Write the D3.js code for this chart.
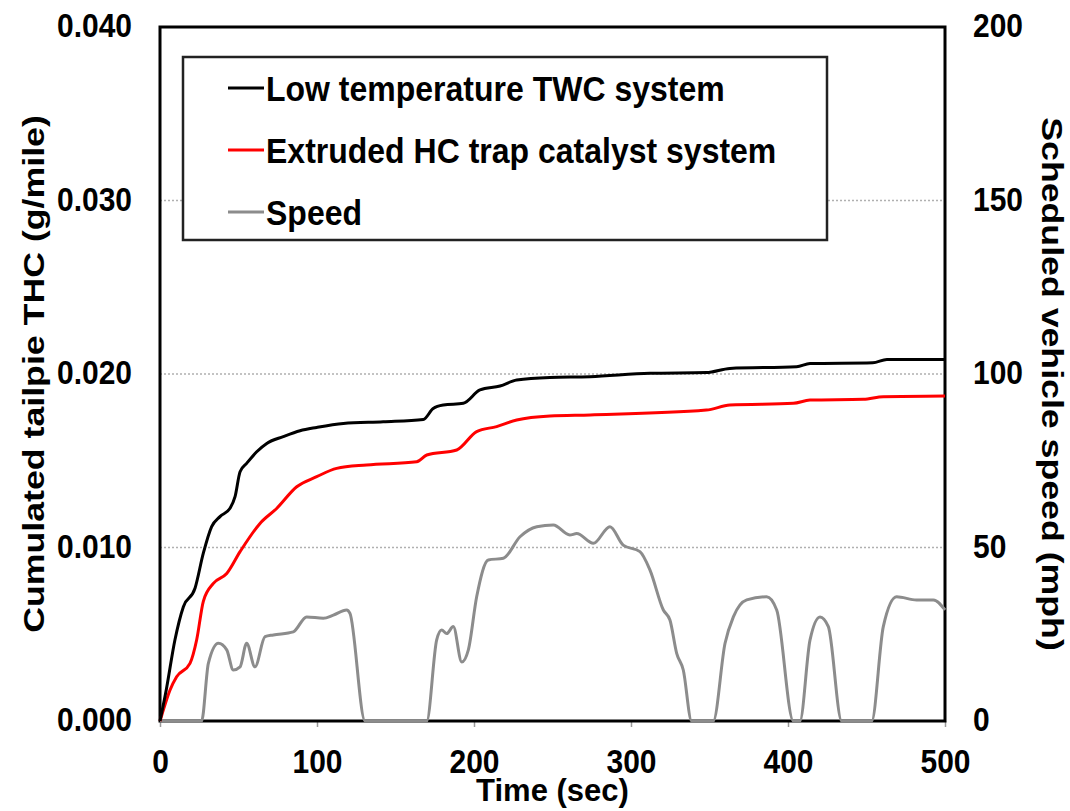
<!DOCTYPE html>
<html>
<head>
<meta charset="utf-8">
<script src="https://cdn.jsdelivr.net/npm/d3@7/dist/d3.min.js"></script>
<style>
  body { margin: 0; background: #fff; }
  text { font-family: "Liberation Sans", Arial, sans-serif; font-weight: bold; fill: #000; }
  text.tall { transform-box: fill-box; transform-origin: center; transform: scaleY(1.12); }
</style>
</head>
<body>
<svg id="chart" width="1070" height="811"></svg>
<script>
// cumulated THC, low temperature TWC system
const twcTime = [0, 4, 9.5, 14.9, 22.3, 27.6, 32.9, 38.2, 44.6, 47.8, 51, 55.2, 61.6, 68, 78.5, 89.2, 99.8, 116.8, 142.2, 167.7, 174, 180.5, 193.2, 203.8, 216.6, 227.2, 248.4, 273.9, 312, 348, 363, 405.5, 414, 454, 463, 500]
const twcThc  = [0, 0.0018, 0.00467, 0.00659, 0.00765, 0.00967, 0.0112, 0.01178, 0.01226, 0.01293, 0.01437, 0.01485, 0.01552, 0.016, 0.01639, 0.01673, 0.01692, 0.01715, 0.01725, 0.01738, 0.01801, 0.01821, 0.01831, 0.01908, 0.01931, 0.01965, 0.0198, 0.01984, 0.02004, 0.02008, 0.02032, 0.02042, 0.0206, 0.02065, 0.02084, 0.02084]

// cumulated THC, extruded HC trap catalyst system
const trapTime = [0, 2, 6.4, 10.6, 19.1, 23.4, 27.6, 34, 42.5, 51, 63.7, 74.3, 87.1, 99.8, 112.5, 131.6, 163.5, 169.9, 189, 201.7, 214.4, 227.2, 248.4, 274, 348, 363, 403.4, 414, 448, 460.7, 500]
const trapThc  = [0, 0.0006, 0.00179, 0.00255, 0.00332, 0.0047, 0.0069, 0.00793, 0.0085, 0.00976, 0.01139, 0.01225, 0.0135, 0.01408, 0.01456, 0.01476, 0.01494, 0.01533, 0.01562, 0.01668, 0.01697, 0.01735, 0.01758, 0.01764, 0.01792, 0.01821, 0.01831, 0.0185, 0.01854, 0.01869, 0.01873]

// scheduled vehicle speed (mph)
const speedTime = [0, 26.5, 30.8, 37.2, 42.5, 46.7, 51, 55.2, 60.5, 66.9, 72.2, 84.9, 93.4, 104, 110.4, 118.9, 121, 130.6,
  169.9, 176.2, 179.4, 182.6, 186.8, 192.2, 196.4, 201.7, 209.1, 218.7, 229.3, 240, 250.5, 261, 265.4, 276, 286.6, 295, 305.7, 312.1, 320.6, 324.8, 329.1, 333.3, 338.6,
  352.4, 359.9, 365.2, 373.7, 386.4, 392.8, 403.4, 407.6, 414, 420.4, 425.7, 434.2, 453.3, 460.7, 469.2, 481.9, 492.6, 500]
const speedMph = [0, 0, 16.6, 22.4, 20.5, 14.7, 15.6, 22.4, 15.6, 24.3, 24.8, 25.7, 30, 29.6, 30.5, 32, 31, 0,
  0, 23.3, 26.2, 25.2, 27.2, 17, 20.5, 35.8, 46.4, 46.9, 53.1, 56, 56.5, 53.6, 54, 51.2, 56, 50.7, 48.8, 43.5, 32, 29.1, 19.5, 14.7, 0,
  0, 22.4, 30, 34.9, 35.8, 32, 0, 0, 23.3, 30, 27.2, 0, 0, 27.2, 35.8, 34.9, 34.9, 32]

const timeTicks = [0, 100, 200, 300, 400, 500]
const thcTicks = [0, 0.01, 0.02, 0.03, 0.04]
const speedTicks = [0, 50, 100, 150, 200]

const seriesNames = ["Low temperature TWC system", "Extruded HC trap catalyst system", "Speed"]
const seriesColors = ["#000", "#ff0000", "#8c8c8c"]

const svg = d3.select("#chart")
const plotLeft = 160, plotRight = 945, plotTop = 27, plotBottom = 721

const x = d3.scaleLinear().domain([0, 500]).range([plotLeft, plotRight])
const y = d3.scaleLinear().domain([0, 0.04]).range([plotBottom, plotTop])
const y2 = d3.scaleLinear().domain([0, 200]).range([plotBottom, plotTop])

// grid
svg.append("g")
    .selectAll("line")
    .data(thcTicks.filter(d => d > 0 && d < 0.04))
    .enter()
    .append("line")
    .attr("x1", plotLeft)
    .attr("x2", plotRight)
    .attr("y1", d => y(d))
    .attr("y2", d => y(d))
    .attr("stroke", "#b0b0b0")
    .attr("stroke-width", 1.5)
    .attr("stroke-dasharray", "2,2")

// axes
const fontSize = 30
const xAxis = svg.append("g")
    .attr("transform", `translate(0,${plotBottom})`)
    .call(d3.axisBottom(x).tickValues(timeTicks).tickSize(6).tickPadding(22))
const yAxis = svg.append("g")
    .attr("transform", `translate(${plotLeft},0)`)
    .call(d3.axisLeft(y).tickValues(thcTicks).tickFormat(d3.format(".3f")).tickSize(0).tickPadding(28))
const y2Axis = svg.append("g")
    .attr("transform", `translate(${plotRight},0)`)
    .call(d3.axisRight(y2).tickValues(speedTicks).tickSize(0).tickPadding(28))

for (const g of [xAxis, yAxis, y2Axis]) {
    g.select(".domain").remove()
    g.selectAll("text").attr("class", "tall").attr("font-size", fontSize).attr("font-family", null)
    g.selectAll("line").attr("stroke", "#999").attr("stroke-width", 1.5)
}
yAxis.selectAll("text").attr("dy", "0.28em")
y2Axis.selectAll("text").attr("dy", "0.28em")
xAxis.selectAll("text").attr("dy", "0.76em")

// frame
svg.append("rect")
    .attr("x", plotLeft)
    .attr("y", plotTop)
    .attr("width", plotRight - plotLeft)
    .attr("height", plotBottom - plotTop)
    .attr("fill", "none")
    .attr("stroke", "#000")
    .attr("stroke-width", 3)

// lines
const line = (xs, ys, yScale) => d3.line()
    .x((d, i) => x(xs[i]))
    .y((d, i) => yScale(ys[i]))
    .curve(d3.curveMonotoneX)(xs)

svg.append("path")
    .attr("d", line(speedTime, speedMph, y2))
    .attr("fill", "none")
    .attr("stroke", seriesColors[2])
    .attr("stroke-width", 3)
svg.append("path")
    .attr("d", line(trapTime, trapThc, y))
    .attr("fill", "none")
    .attr("stroke", seriesColors[1])
    .attr("stroke-width", 3)
svg.append("path")
    .attr("d", line(twcTime, twcThc, y))
    .attr("fill", "none")
    .attr("stroke", seriesColors[0])
    .attr("stroke-width", 3)

// legend
const legend = svg.append("g")
legend.append("rect")
    .attr("x", 183)
    .attr("y", 57)
    .attr("width", 644)
    .attr("height", 183)
    .attr("fill", "#fff")
    .attr("stroke", "#222")
    .attr("stroke-width", 2.5)
const rows = legend.selectAll("g.row")
    .data(seriesNames)
    .enter()
    .append("g")
    .attr("transform", (d, i) => `translate(228,${88 + i * 62})`)
rows.append("line")
    .attr("x1", 0)
    .attr("x2", 36)
    .attr("stroke", (d, i) => seriesColors[i])
    .attr("stroke-width", 3)
rows.append("text")
    .attr("class", "tall")
    .attr("x", 38)
    .attr("dy", "0.36em")
    .attr("font-size", 32)
    .text(d => d)

// axis titles
svg.append("text")
    .attr("x", (plotLeft + plotRight) / 2)
    .attr("y", 801)
    .attr("text-anchor", "middle")
    .attr("font-size", fontSize + 1)
    .text("Time (sec)")
svg.append("text")
    .attr("transform", `translate(44,${(plotTop + plotBottom) / 2}) rotate(-90) scale(1.19,1)`)
    .attr("text-anchor", "middle")
    .attr("font-size", fontSize)
    .text("Cumulated tailpie THC (g/mile)")
svg.append("text")
    .attr("transform", `translate(1042,${(plotTop + plotBottom) / 2 + 10}) rotate(90) scale(1.19,1)`)
    .attr("text-anchor", "middle")
    .attr("font-size", fontSize)
    .text("Scheduled vehicle speed (mph)")
</script>
</body>
</html>
